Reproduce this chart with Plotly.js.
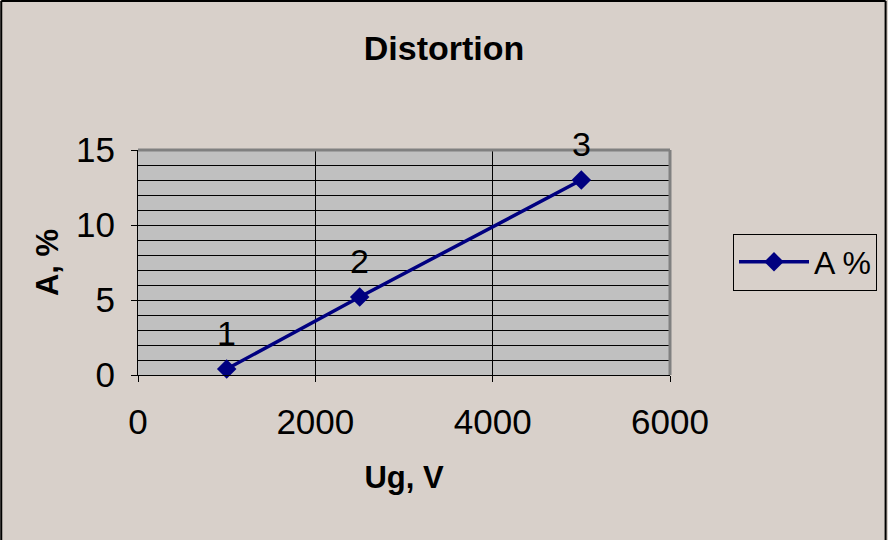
<!DOCTYPE html>
<html>
<head>
<meta charset="utf-8">
<script src="https://cdn.plot.ly/plotly-3.0.1.min.js"></script>
<style>
html,body{margin:0;padding:0;background:#D8D0CA;}
#chart{width:888px;height:540px;}
</style>
</head>
<body>
<div id="chart"></div>
<script>
const ugVolts = [1000, 2500, 5000];
const distortionPct = [0.4, 5.2, 13.0];
const pointLabels = ['1', '2', '3'];
const seriesName = 'A %';
const xTickVals = [0, 2000, 4000, 6000];
const yTickVals = [0, 5, 10, 15];

const FONT = '"Liberation Sans Narrow", "Liberation Sans", Arial, sans-serif';
const BOLD = '"Liberation Sans", Arial, sans-serif';

const trace = {
  x: ugVolts,
  y: distortionPct,
  name: seriesName,
  mode: 'lines+markers',
  line: {color: '#000080', width: 3.5},
  marker: {symbol: 'diamond', size: 15, color: '#000080'},
  showlegend: true,
  cliponaxis: false
};

const annotations = ugVolts.map((x, i) => ({
  x: x, y: distortionPct[i], xref: 'x', yref: 'y',
  text: pointLabels[i], showarrow: false,
  yshift: 36, font: {family: FONT, size: 34, color: '#000'}
}));

const L = 138, R = 671, T = 150, B = 375;
const px = v => (v - L) / (R - L);
const py = v => (B - v) / (B - T);

const shapes = [
  {type: 'line', xref: 'paper', yref: 'paper', x0: 0, x1: 1, y0: 1, y1: 1, line: {color: '#808080', width: 3}, layer: 'above'},
  {type: 'line', xref: 'paper', yref: 'paper', x0: 1, x1: 1, y0: 0, y1: 1, line: {color: '#808080', width: 3}, layer: 'above'},
  {type: 'line', xref: 'paper', yref: 'paper', x0: px(1), x1: px(1), y0: py(540), y1: py(1), line: {color: '#000', width: 2}},
  {type: 'line', xref: 'paper', yref: 'paper', x0: px(1), x1: px(887), y0: py(1), y1: py(1), line: {color: '#000', width: 2}},
  {type: 'line', xref: 'paper', yref: 'paper', x0: px(887), x1: px(887), y0: py(540), y1: py(1), line: {color: '#000', width: 2}}
];

const layout = {
  width: 888, height: 540,
  paper_bgcolor: '#D8D0CA',
  plot_bgcolor: '#C0C0C0',
  margin: {l: L, r: 888 - R, t: T, b: 540 - B, pad: 0},
  font: {family: FONT, color: '#000'},
  title: {
    text: '<b>Distortion</b>',
    x: 0.5, xref: 'container', xanchor: 'center',
    y: 1 - 48 / 540, yref: 'container', yanchor: 'middle',
    font: {family: BOLD, size: 34, color: '#000'}
  },
  xaxis: {
    range: [0, 6000], tickvals: xTickVals, ticktext: xTickVals.map(String),
    showgrid: true, gridcolor: '#000', gridwidth: 1,
    showline: true, linecolor: '#000', linewidth: 1,
    ticks: 'outside', ticklen: 6, tickcolor: '#000',
    ticklabelstandoff: 10,
    tickfont: {family: FONT, size: 35, color: '#000'},
    zeroline: false, fixedrange: true,
    title: {text: '<b>Ug, V</b>', standoff: 26, font: {family: BOLD, size: 31, color: '#000'}}
  },
  yaxis: {
    range: [0, 15], tickvals: yTickVals, ticktext: yTickVals.map(String),
    showgrid: true, gridcolor: '#000', gridwidth: 1,
    minor: {dtick: 1, showgrid: true, gridcolor: '#000', gridwidth: 1, ticks: ''},
    showline: true, linecolor: '#000', linewidth: 1,
    ticks: 'outside', ticklen: 6, tickcolor: '#000',
    ticklabelstandoff: 9,
    tickfont: {family: FONT, size: 35, color: '#000'},
    zeroline: false, fixedrange: true,
    title: {text: '<b>A, %</b>', standoff: 8, font: {family: BOLD, size: 31, color: '#000'}}
  },
  legend: {
    x: px(733), xanchor: 'left',
    y: py(262), yanchor: 'middle',
    itemwidth: 70,
    bgcolor: 'rgba(0,0,0,0)', bordercolor: '#000', borderwidth: 1,
    font: {family: FONT, size: 32, color: '#000'}
  },
  annotations: annotations,
  shapes: shapes
};

Plotly.newPlot('chart', [trace], layout, {displayModeBar: false, staticPlot: true});
</script>
</body>
</html>
